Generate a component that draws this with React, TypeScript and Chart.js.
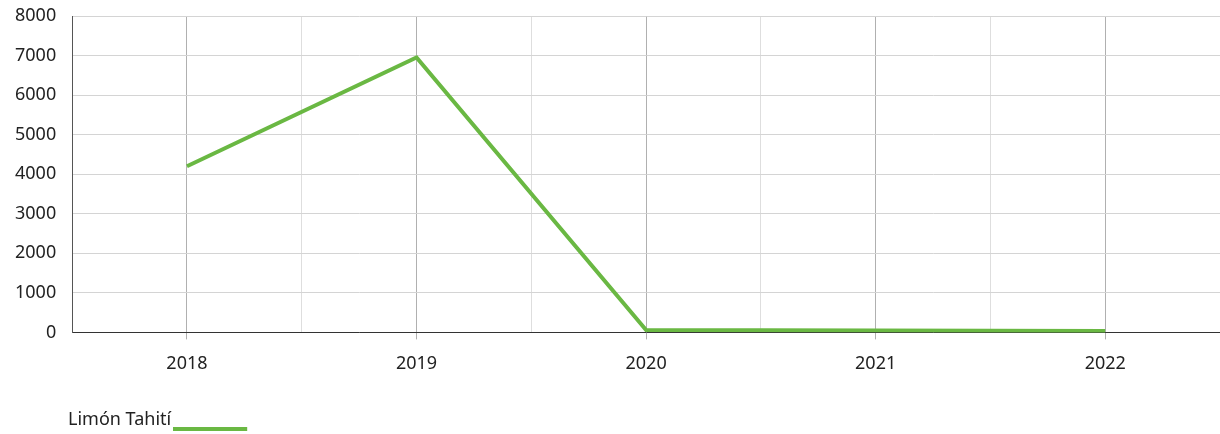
import React, { useEffect, useRef } from "react";
import { Chart, registerables } from "chart.js";

Chart.register(...registerables);

const years = ["2018", "2019", "2020", "2021", "2022"];
const seriesName = "Limón Tahití";
const values = [4200, 6950, 60, 45, 35];
const yTicks = [0, 1000, 2000, 3000, 4000, 5000, 6000, 7000, 8000];

const GREEN = "#6ab843";
const FONT = "'Noto Sans', 'Open Sans', sans-serif";
const LEGEND_SHIFT = 59;

const legendShift = {
  id: "legendShift",
  afterLayout(chart: any) {
    const lg = chart.legend;
    if (!lg) return;
    lg.left += LEGEND_SHIFT;
    lg.right += LEGEND_SHIFT;
    (lg.legendHitBoxes || []).forEach((h: any) => {
      h.left += LEGEND_SHIFT;
    });
  },
};

function makeLegendLine(): HTMLCanvasElement {
  const c = document.createElement("canvas");
  c.width = 88;
  c.height = 24;
  const g = c.getContext("2d");
  if (g) {
    g.fillStyle = GREEN;
    g.fillRect(0, 19, 74, 4);
  }
  return c;
}

export default function App() {
  const ref = useRef<HTMLCanvasElement | null>(null);
  useEffect(() => {
    if (!ref.current) return;
    const legendLine = makeLegendLine();
    const chart = new Chart(ref.current, {
      type: "line",
      plugins: [legendShift],
      data: {
        datasets: [
          {
            label: seriesName,
            data: values.map((v, i) => ({ x: i, y: v })),
            borderColor: GREEN,
            backgroundColor: GREEN,
            borderWidth: 4,
            pointRadius: 0,
            tension: 0,
          },
        ],
      },
      options: {
        animation: false,
        responsive: false,
        maintainAspectRatio: false,
        layout: { padding: { top: 16, left: -1, right: 0, bottom: -5 } },
        scales: {
          x: {
            type: "linear",
            min: -0.5,
            max: years.length - 0.5,
            border: { color: "#333", width: 1 },
            grid: {
              color: (ctx: any) =>
                Number.isInteger(ctx.tick?.value) ? "#b0b0b0" : "#dedede",
              tickColor: (ctx: any) =>
                Number.isInteger(ctx.tick?.value) ? "#b0b0b0" : "rgba(0,0,0,0)",
              tickLength: 7,
            },
            ticks: {
              stepSize: 0.5,
              autoSkip: false,
              maxRotation: 0,
              padding: 14,
              color: "#222",
              font: { family: FONT, size: 18 },
              callback: (v: any) =>
                Number.isInteger(v) && v >= 0 && v < years.length ? years[v] : "",
            },
            afterFit: (axis: any) => {
              axis.paddingRight = 0;
              axis.paddingLeft = 0;
              axis.height += 12;
            },
          },
          y: {
            min: 0,
            max: 8000,
            afterBuildTicks: (axis: any) => {
              axis.ticks = yTicks.map((v) => ({ value: v }));
            },
            afterFit: (axis: any) => {
              axis.paddingTop = 0;
              axis.paddingBottom = 0;
            },
            border: { color: "#555", width: 1 },
            grid: { color: "#d4d4d4", drawTicks: false },
            ticks: {
              padding: 16,
              color: "#222",
              font: { family: FONT, size: 18 },
              callback: (v: any) => String(v),
            },
          },
        },
        plugins: {
          tooltip: { enabled: false },
          legend: {
            position: "bottom",
            align: "end",
            rtl: true,
            labels: {
              color: "#222",
              font: { family: FONT, size: 18 },
              usePointStyle: true,
              pointStyleWidth: 74,
              boxHeight: 18,
              padding: 10,
              generateLabels: (c: any) =>
                c.data.datasets.map((ds: any, i: number) => ({
                  text: ds.label,
                  fillStyle: GREEN,
                  strokeStyle: GREEN,
                  lineWidth: 0,
                  pointStyle: legendLine,
                  hidden: false,
                  datasetIndex: i,
                  fontColor: "#222",
                })),
            },
          },
        },
      },
    });
    return () => chart.destroy();
  }, []);
  return (
    <div style={{ position: "absolute", left: 0, top: 0, width: 1220, height: 434 }}>
      <canvas ref={ref} width={1220} height={434} style={{ width: 1220, height: 434 }} />
    </div>
  );
}
